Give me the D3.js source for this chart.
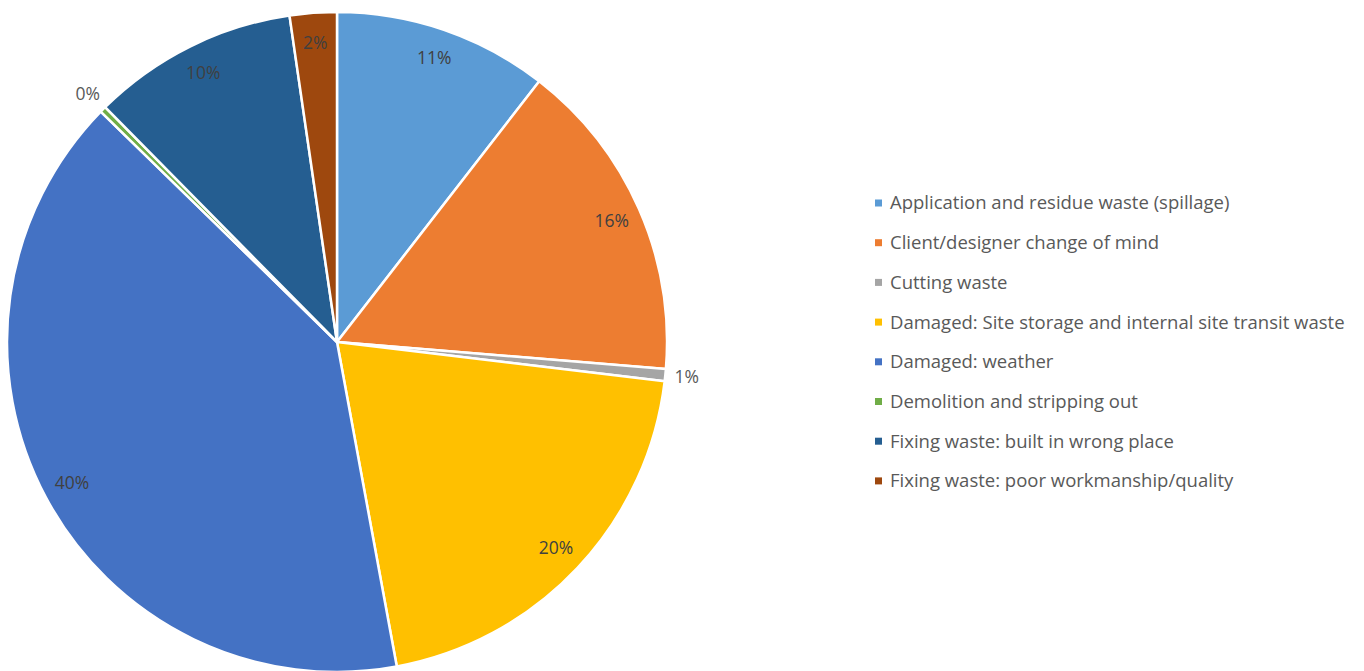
<!DOCTYPE html>
<html><head><meta charset="utf-8">
<script src="https://cdn.jsdelivr.net/npm/d3@7"></script>
<style>body{margin:0;background:#fff}svg{display:block}</style>
</head><body>
<svg id="c" width="1364" height="671"></svg>
<script>
const categories = ["Application and residue waste (spillage)","Client/designer change of mind","Cutting waste","Damaged: Site storage and internal site transit waste","Damaged: weather","Demolition and stripping out","Fixing waste: built in wrong place","Fixing waste: poor workmanship/quality"];
const values = [10.5, 15.8, 0.6, 20.2, 40.2, 0.3, 10.1, 2.3];
const labels = ["11%","16%","1%","20%","40%","0%","10%","2%"];
const colors = ["#5B9BD5","#ED7D31","#A5A5A5","#FFC000","#4472C4","#70AD47","#255E91","#9E480E"];
const outside = [false,false,true,false,false,true,false,false];

const svg = d3.select("#c");
const cx = 337, cy = 342, r = 330;
const font = "'Open Sans', 'Liberation Sans', sans-serif";
const pie = d3.pie().sort(null).value(d => d)(values);
const arc = d3.arc().innerRadius(0).outerRadius(r);
const g = svg.append("g").attr("transform", `translate(${cx},${cy})`);
g.selectAll("path").data(pie).join("path")
  .attr("d", arc).attr("fill", (d,i) => colors[i])
  .attr("stroke", "#fff").attr("stroke-width", 2.5).attr("stroke-linejoin","round");
const inArc = d3.arc().innerRadius(r*0.91).outerRadius(r*0.91);
const outArc = d3.arc().innerRadius(r*1.065).outerRadius(r*1.065);
g.selectAll("text.lbl").data(pie).join("text").attr("class","lbl")
  .attr("transform", (d,i) => `translate(${(outside[i]?outArc:inArc).centroid(d)})`)
  .attr("text-anchor","middle").attr("dy","0.35em")
  .attr("font-family", font).attr("font-size", 17.5)
  .attr("fill", (d,i) => outside[i] ? "#595959" : "#404040")
  .text((d,i) => labels[i]);

const leg = svg.append("g").attr("transform","translate(875,203)");
const rows = leg.selectAll("g").data(categories).join("g")
  .attr("transform",(d,i)=>`translate(0,${i*39.7})`);
rows.append("rect").attr("x",0).attr("y",-3.5).attr("width",7).attr("height",7).attr("fill",(d,i)=>colors[i]);
const texts = rows.append("text").attr("x",15).attr("dy","0.35em")
  .attr("font-family", font).attr("font-size",16).attr("fill","#595959").text(d=>d);
// fit longest label width to reference (~455px)
let maxW = 0; texts.each(function(){ maxW = Math.max(maxW, this.getComputedTextLength()); });
const fs = 16 * 455 / maxW;
texts.attr("font-size", Math.min(19, fs));
</script>
</body></html>
